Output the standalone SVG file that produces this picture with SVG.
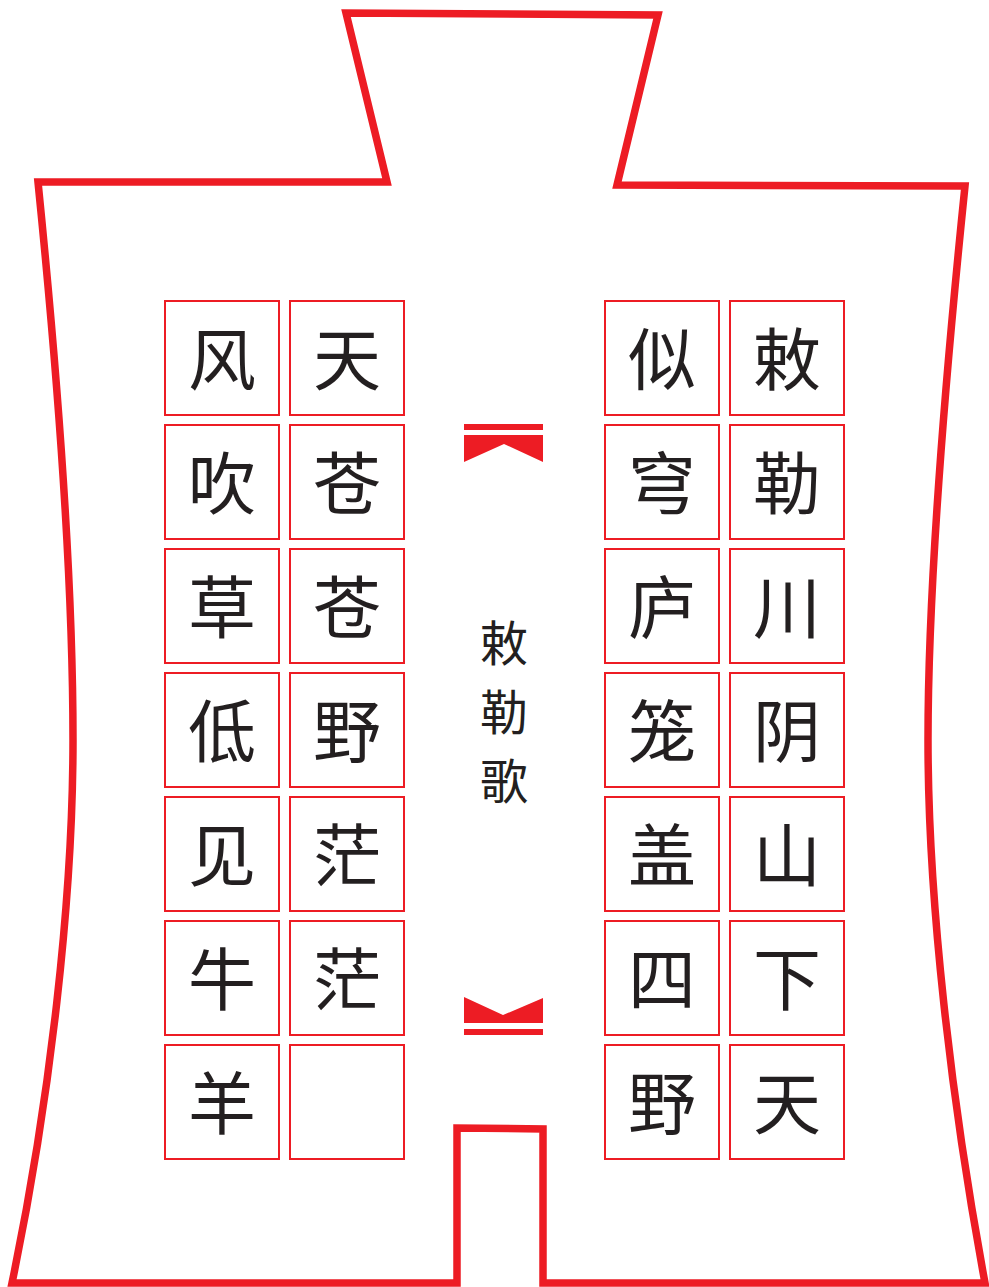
<svg xmlns="http://www.w3.org/2000/svg" width="989" height="1287" viewBox="0 0 989 1287">
<style>
.frame{fill:none;stroke:#ed1c24;stroke-width:7.5;stroke-linejoin:miter}
.box{fill:#ffffff;stroke:#ed1c24;stroke-width:2}
.ch{font-family:"Noto Sans CJK SC","Noto Sans CJK TC",sans-serif;font-size:68px;fill:#231f20;text-anchor:middle;dominant-baseline:central}
.title{font-family:"Noto Sans CJK SC","Noto Sans CJK TC",sans-serif;font-size:48px;fill:#231f20;text-anchor:middle;dominant-baseline:central}
.mark{fill:#ed1c24}
</style>
<rect x="0" y="0" width="989" height="1287" fill="#ffffff"/>
<g id="frame">
<path class="frame" d="M387,182 L346,13 L658,15 L617,185 L965,186 C943,400 928,600 928,740 C928,900 951,1100 985,1283 L543,1283 L543,1129 L457,1128 L457,1283 L12,1283 C50,1100 73,900 73,740 C73,600 60,400 38,182 Z"/>
</g>
<g id="col4">
<rect class="box" x="730" y="301" width="114" height="114"/><text class="ch" x="787" y="355">敕</text>
<rect class="box" x="730" y="425" width="114" height="114"/><text class="ch" x="787" y="479">勒</text>
<rect class="box" x="730" y="549" width="114" height="114"/><text class="ch" x="787" y="603">川</text>
<rect class="box" x="730" y="673" width="114" height="114"/><text class="ch" x="787" y="727">阴</text>
<rect class="box" x="730" y="797" width="114" height="114"/><text class="ch" x="787" y="851">山</text>
<rect class="box" x="730" y="921" width="114" height="114"/><text class="ch" x="787" y="975">下</text>
<rect class="box" x="730" y="1045" width="114" height="114"/><text class="ch" x="787" y="1099">天</text>
</g>
<g id="col3">
<rect class="box" x="605" y="301" width="114" height="114"/><text class="ch" x="662" y="355">似</text>
<rect class="box" x="605" y="425" width="114" height="114"/><text class="ch" x="662" y="479">穹</text>
<rect class="box" x="605" y="549" width="114" height="114"/><text class="ch" x="662" y="603">庐</text>
<rect class="box" x="605" y="673" width="114" height="114"/><text class="ch" x="662" y="727">笼</text>
<rect class="box" x="605" y="797" width="114" height="114"/><text class="ch" x="662" y="851">盖</text>
<rect class="box" x="605" y="921" width="114" height="114"/><text class="ch" x="662" y="975">四</text>
<rect class="box" x="605" y="1045" width="114" height="114"/><text class="ch" x="662" y="1099">野</text>
</g>
<g id="col2">
<rect class="box" x="290" y="301" width="114" height="114"/><text class="ch" x="347" y="355">天</text>
<rect class="box" x="290" y="425" width="114" height="114"/><text class="ch" x="347" y="479">苍</text>
<rect class="box" x="290" y="549" width="114" height="114"/><text class="ch" x="347" y="603">苍</text>
<rect class="box" x="290" y="673" width="114" height="114"/><text class="ch" x="347" y="727">野</text>
<rect class="box" x="290" y="797" width="114" height="114"/><text class="ch" x="347" y="851">茫</text>
<rect class="box" x="290" y="921" width="114" height="114"/><text class="ch" x="347" y="975">茫</text>
<rect class="box" x="290" y="1045" width="114" height="114"/>
</g>
<g id="col1">
<rect class="box" x="165" y="301" width="114" height="114"/><text class="ch" x="222" y="355">风</text>
<rect class="box" x="165" y="425" width="114" height="114"/><text class="ch" x="222" y="479">吹</text>
<rect class="box" x="165" y="549" width="114" height="114"/><text class="ch" x="222" y="603">草</text>
<rect class="box" x="165" y="673" width="114" height="114"/><text class="ch" x="222" y="727">低</text>
<rect class="box" x="165" y="797" width="114" height="114"/><text class="ch" x="222" y="851">见</text>
<rect class="box" x="165" y="921" width="114" height="114"/><text class="ch" x="222" y="975">牛</text>
<rect class="box" x="165" y="1045" width="114" height="114"/><text class="ch" x="222" y="1099">羊</text>
</g>
<g id="title">
<rect class="mark" x="464" y="424" width="79" height="6"/>
<polygon class="mark" points="464,435 543,435 543,462 504,444 464,462"/>
<text class="title" x="504" y="640">敕</text>
<text class="title" x="504" y="709">勒</text>
<text class="title" x="504" y="778">歌</text>
<polygon class="mark" points="464,997 503,1015 543,998 543,1023 464,1023"/>
<rect class="mark" x="464" y="1029" width="79" height="6"/>
</g>
</svg>
